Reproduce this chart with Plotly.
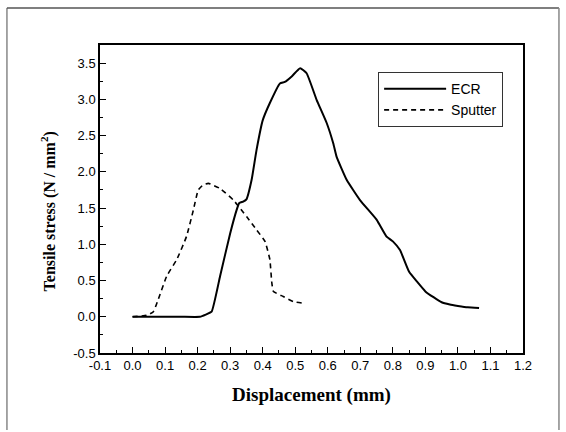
import plotly.graph_objects as go

# ECR (solid)
ecr_x = [0.0, 0.05, 0.10, 0.15, 0.207, 0.225, 0.243, 0.269, 0.30, 0.32, 0.328, 0.34, 0.35,
         0.366, 0.381, 0.40, 0.422, 0.453, 0.468, 0.49, 0.515, 0.535, 0.566, 0.597, 0.617,
         0.627, 0.658, 0.699, 0.75, 0.78, 0.80, 0.822, 0.85, 0.875, 0.90, 0.925, 0.95,
         0.975, 1.0, 1.03, 1.065]
ecr_y = [0.0, 0.0, 0.0, 0.0, 0.0, 0.03, 0.07, 0.56, 1.15, 1.475, 1.57, 1.59, 1.62,
         1.89, 2.30, 2.71, 2.95, 3.22, 3.24, 3.32, 3.43, 3.36, 2.99, 2.67, 2.39,
         2.21, 1.89, 1.61, 1.34, 1.11, 1.04, 0.92, 0.62, 0.48, 0.35, 0.27, 0.20,
         0.17, 0.15, 0.13, 0.12]

# Sputter (dashed)
sp_x = [0.0, 0.043, 0.064, 0.079, 0.105, 0.136, 0.166, 0.187, 0.202, 0.217, 0.233, 0.269,
        0.31, 0.351, 0.381, 0.407, 0.422, 0.428, 0.433, 0.463, 0.494, 0.52]
sp_y = [0.0, 0.02, 0.07, 0.24, 0.56, 0.79, 1.11, 1.475, 1.75, 1.82, 1.84, 1.77,
        1.61, 1.38, 1.20, 1.04, 0.79, 0.47, 0.35, 0.28, 0.21, 0.19]

x_ticks = [-0.1, 0.0, 0.1, 0.2, 0.3, 0.4, 0.5, 0.6, 0.7, 0.8, 0.9, 1.0, 1.1, 1.2]
y_ticks = [-0.5, 0.0, 0.5, 1.0, 1.5, 2.0, 2.5, 3.0, 3.5]

fig = go.Figure()
fig.add_trace(go.Scatter(x=ecr_x, y=ecr_y, mode="lines", name="ECR",
                         line=dict(color="black", width=2, shape="spline", smoothing=0.4)))
fig.add_trace(go.Scatter(x=sp_x, y=sp_y, mode="lines", name="Sputter",
                         line=dict(color="black", width=1.6, dash="5px,4px",
                                   shape="spline", smoothing=0.4)))

tickfont = dict(family="Liberation Sans, Arial", size=13, color="black")

fig.update_xaxes(range=[-0.1, 1.2], tickvals=x_ticks,
                 ticktext=[f"{v:.1f}" for v in x_ticks],
                 ticks="inside", ticklen=6, tickwidth=1, tickcolor="black",
                 minor=dict(dtick=0.05, tick0=0, ticks="inside", ticklen=3, tickcolor="black"),
                 showline=True, linecolor="black", linewidth=1.5, mirror=True,
                 showgrid=False, zeroline=False, tickfont=tickfont,
                 title=dict(text="<b>Displacement (mm)</b>",
                            font=dict(family="Liberation Serif, Times New Roman", size=19, color="black"),
                            standoff=15))
fig.update_yaxes(range=[-0.5, 3.75], tickvals=y_ticks,
                 ticktext=[f"{v:.1f}" for v in y_ticks],
                 ticks="inside", ticklen=6, tickwidth=1, tickcolor="black",
                 minor=dict(dtick=0.25, tick0=0, ticks="inside", ticklen=3, tickcolor="black"),
                 showline=True, linecolor="black", linewidth=1.5, mirror=True,
                 showgrid=False, zeroline=False, tickfont=tickfont)

fig.add_annotation(text="<b>Tensile stress (N / mm<sup>2</sup>)</b>",
                   xref="paper", yref="paper", x=-0.122, y=0.461,
                   xanchor="center", yanchor="middle", textangle=-90, showarrow=False,
                   font=dict(family="Liberation Serif, Times New Roman", size=16, color="black"))

fig.update_layout(
    width=566, height=432,
    margin=dict(l=100, r=43, t=45, b=79),
    paper_bgcolor="white", plot_bgcolor="white",
    showlegend=True,
    legend=dict(x=0.953, y=0.912, xanchor="right", yanchor="top",
                bordercolor="#333", borderwidth=1, bgcolor="white",
                font=dict(family="Liberation Sans, Arial", size=14, color="black"),
                itemwidth=62, tracegroupgap=0),
    shapes=[
        dict(type="line", xref="paper", yref="paper", x0=-0.22, x1=-0.22, y0=1.12, y1=-0.25,
             line=dict(color="#888", width=1.5)),
        dict(type="line", xref="paper", yref="paper", x0=-0.22, x1=1.085, y0=1.12, y1=1.12,
             line=dict(color="#555", width=1.5)),
        dict(type="line", xref="paper", yref="paper", x0=1.085, x1=1.085, y0=1.12, y1=-0.25,
             line=dict(color="#888", width=1.5)),
    ],
)

fig.write_html("out.html", config={"displayModeBar": False},
               post_script="document.body.style.margin='0';document.body.style.overflow='hidden';")
